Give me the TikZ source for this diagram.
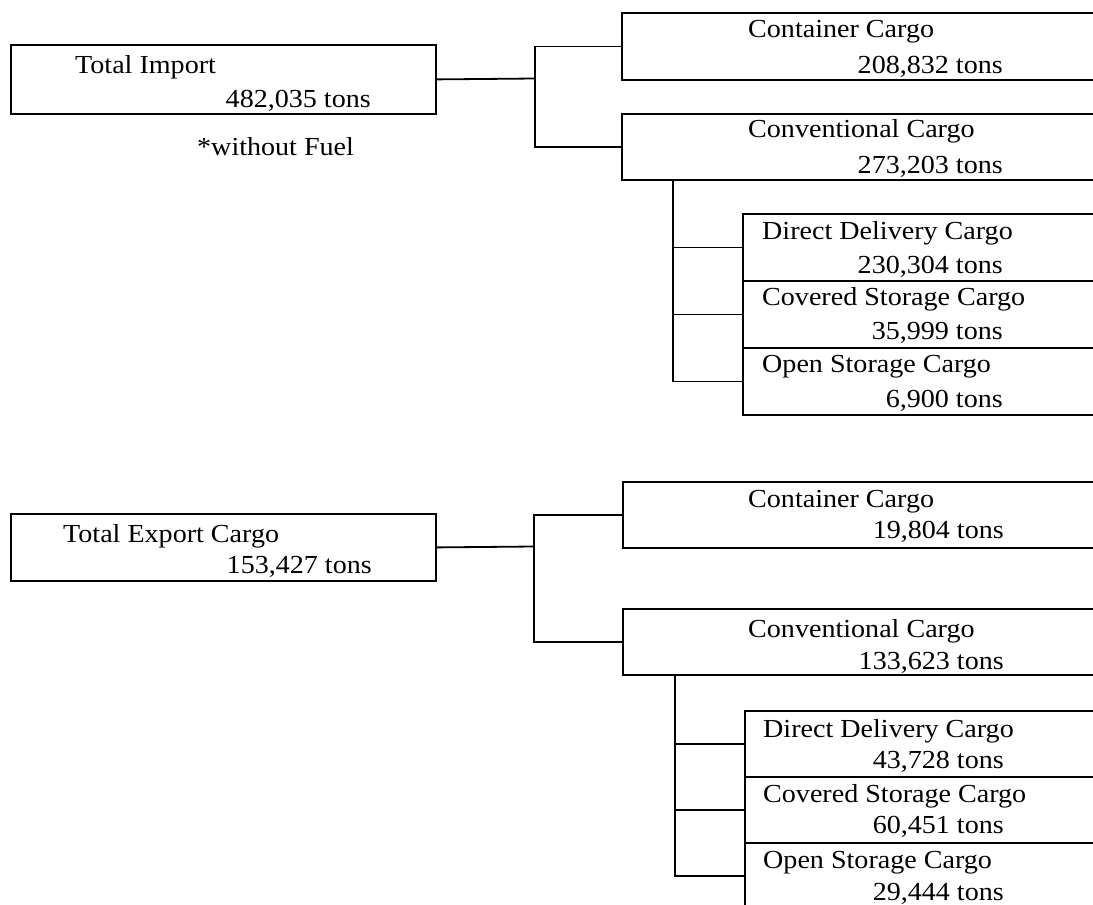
\documentclass[tikz,border=0pt]{standalone}
\usepackage{fontspec}
\usepackage{graphicx}
\setmainfont{Liberation Serif}
\newcommand{\wtx}[1]{\scalebox{1.08}[1]{#1}}
\tikzset{
  box/.style={draw, line width=1.8pt, anchor=north west, inner sep=0pt, rectangle},
  ttl/.style={anchor=base west, inner sep=0pt, font=\fontsize{26}{30}\selectfont},
  num/.style={anchor=base east, inner sep=0pt, font=\fontsize{26}{30}\selectfont},
  conn/.style={line width=1.8pt}
}
\begin{document}
\begin{tikzpicture}[x=1pt,y=-1pt]
\useasboundingbox (0,0) rectangle (1093,905);
\clip (0,0) rectangle (1093,905);
\fill[white] (0,0) rectangle (1093,905);

% ---------------- Import ----------------
\node[box, minimum width=425pt, minimum height=69pt] (imp) at (10,44) {};
\node[ttl] (impT) at (75,73) {\wtx{Total Import}};
\node[num] (impN) at (371,107) {\wtx{482,035 tons}};
\node[ttl] (fuel) at (197,155) {\wtx{*without Fuel}};

\node[box, minimum width=489pt, minimum height=67pt] (ic) at (621,12) {};
\node[ttl] (icT) at (748,37) {\wtx{Container Cargo}};
\node[num] (icN) at (1003,73) {\wtx{208,832 tons}};

\node[box, minimum width=489pt, minimum height=66pt] (iv) at (621,113) {};
\node[ttl] (ivT) at (748,137) {\wtx{Conventional Cargo}};
\node[num] (ivN) at (1003,173) {\wtx{273,203 tons}};

\node[box, minimum width=368pt, minimum height=67pt] (id) at (742,213) {};
\node[ttl] (idT) at (762,239) {\wtx{Direct Delivery Cargo}};
\node[num] (idN) at (1003,273) {\wtx{230,304 tons}};

\node[box, minimum width=368pt, minimum height=67pt] (is) at (742,280) {};
\node[ttl] (isT) at (762,305) {\wtx{Covered Storage Cargo}};
\node[num] (isN) at (1003,339) {\wtx{35,999 tons}};

\node[box, minimum width=368pt, minimum height=67pt] (io) at (742,347) {};
\node[ttl] (ioT) at (762,372) {\wtx{Open Storage Cargo}};
\node[num] (ioN) at (1003,407) {\wtx{6,900 tons}};

\coordinate (ij) at (535,78.5);
\draw[conn] (imp.east) -- (ij);
\draw[conn] (ic.west) -| (ij) |- (iv.west);
\coordinate (ivb) at ([xshift=52pt]iv.south west);
\draw[conn] (ivb) |- (io.west);
\draw[conn] (id.west) -- (id.west -| ivb);
\draw[conn] (is.west) -- (is.west -| ivb);

% ---------------- Export ----------------
\node[box, minimum width=425pt, minimum height=67pt] (exp) at (10,513) {};
\node[ttl] (expT) at (63,542) {\wtx{Total Export Cargo}};
\node[num] (expN) at (372,573) {\wtx{153,427 tons}};

\node[box, minimum width=488pt, minimum height=66pt] (ec) at (622,481) {};
\node[ttl] (ecT) at (748,507) {\wtx{Container Cargo}};
\node[num] (ecN) at (1004,538) {\wtx{19,804 tons}};

\node[box, minimum width=488pt, minimum height=66pt] (ev) at (622,608) {};
\node[ttl] (evT) at (748,637) {\wtx{Conventional Cargo}};
\node[num] (evN) at (1004,669) {\wtx{133,623 tons}};

\node[box, minimum width=366pt, minimum height=66pt] (ed) at (744,710) {};
\node[ttl] (edT) at (763,737) {\wtx{Direct Delivery Cargo}};
\node[num] (edN) at (1004,768) {\wtx{43,728 tons}};

\node[box, minimum width=366pt, minimum height=66pt] (es) at (744,776) {};
\node[ttl] (esT) at (763,802) {\wtx{Covered Storage Cargo}};
\node[num] (esN) at (1004,833) {\wtx{60,451 tons}};

\node[box, minimum width=366pt, minimum height=90pt] (eo) at (744,842) {};
\node[ttl] (eoT) at (763,868) {\wtx{Open Storage Cargo}};
\node[num] (eoN) at (1004,900) {\wtx{29,444 tons}};

\coordinate (ej) at (534,546.5);
\draw[conn] (exp.east) -- (ej);
\draw[conn] (ec.west) -| (ej) |- (ev.west);
\coordinate (evb) at ([xshift=53pt]ev.south west);
\coordinate (eot) at ([yshift=-34pt]eo.north west);
\draw[conn] (evb) |- (eot);
\draw[conn] (ed.west) -- (ed.west -| evb);
\draw[conn] (es.west) -- (es.west -| evb);
\end{tikzpicture}
\end{document}
